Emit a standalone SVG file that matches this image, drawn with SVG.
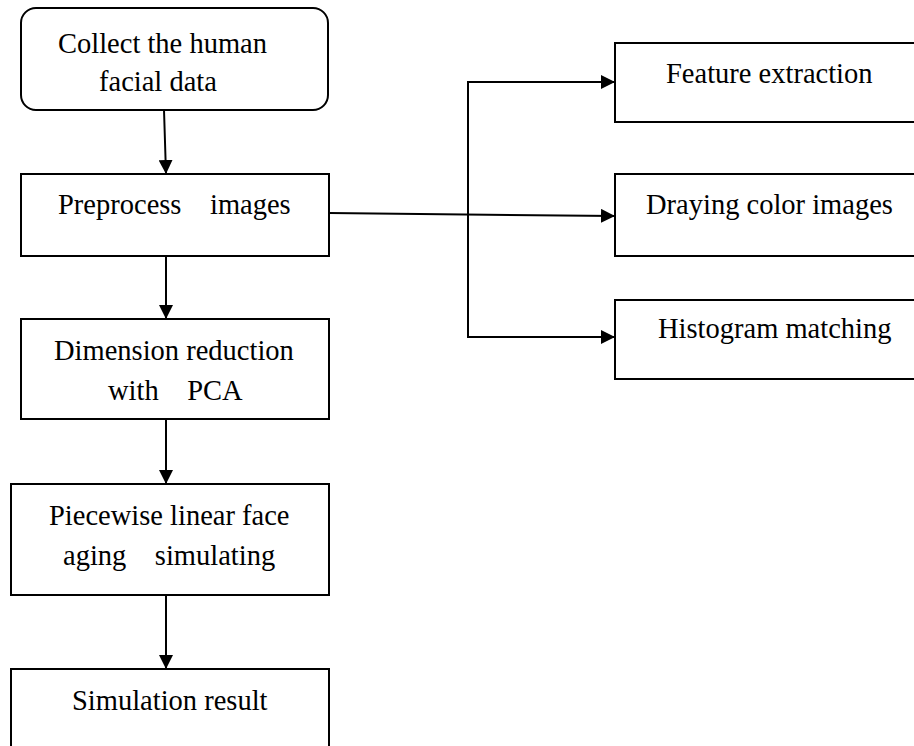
<svg xmlns="http://www.w3.org/2000/svg" width="914" height="746" viewBox="0 0 914 746">
<style>
.box{fill:#fff;stroke:#000;stroke-width:2}
.t{font-family:"Liberation Serif","Times New Roman",serif;font-size:28.5px;fill:#000;white-space:pre}
.c{fill:none;stroke:#000;stroke-width:2}
</style>
<defs>
<marker id="ah" markerWidth="14" markerHeight="14" refX="14" refY="7" orient="auto" markerUnits="userSpaceOnUse">
<path d="M0,0 L14,7 L0,14 Z" fill="#000"/>
</marker>
</defs>
<rect width="914" height="746" fill="#fff"/>
<g id="connectors">
<line class="c" x1="164" y1="110" x2="166" y2="174" marker-end="url(#ah)"/>
<line class="c" x1="166" y1="256" x2="166" y2="319" marker-end="url(#ah)"/>
<line class="c" x1="166" y1="419" x2="166" y2="484" marker-end="url(#ah)"/>
<line class="c" x1="166" y1="595" x2="166" y2="669" marker-end="url(#ah)"/>
<line class="c" x1="329" y1="213" x2="615" y2="216" marker-end="url(#ah)"/>
<polyline class="c" points="615,82 468,82 468,337 615,337"/>
<line class="c" x1="500" y1="82" x2="615" y2="82" marker-end="url(#ah)"/>
<line class="c" x1="500" y1="337" x2="615" y2="337" marker-end="url(#ah)"/>
</g>
<g id="n1">
<rect class="box" x="21" y="8" width="307" height="102" rx="15" ry="15"/>
<text class="t" x="58" y="53">Collect the human</text>
<text class="t" x="99" y="91">facial data</text>
</g>
<g id="n2">
<rect class="box" x="21" y="174" width="308" height="82"/>
<text class="t" x="58" y="214" xml:space="preserve">Preprocess    images</text>
</g>
<g id="n3">
<rect class="box" x="21" y="319" width="308" height="100"/>
<text class="t" x="54" y="360">Dimension reduction</text>
<text class="t" x="108" y="400" xml:space="preserve">with    PCA</text>
</g>
<g id="n4">
<rect class="box" x="11" y="484" width="318" height="111"/>
<text class="t" x="49" y="525">Piecewise linear face</text>
<text class="t" x="63" y="565" xml:space="preserve">aging    simulating</text>
</g>
<g id="n5">
<rect class="box" x="11" y="669" width="318" height="90"/>
<text class="t" x="72" y="710">Simulation result</text>
</g>
<g id="n6">
<rect class="box" x="615" y="43" width="310" height="79"/>
<text class="t" x="666" y="83">Feature extraction</text>
</g>
<g id="n7">
<rect class="box" x="615" y="174" width="310" height="82"/>
<text class="t" x="646" y="214">Draying color images</text>
</g>
<g id="n8">
<rect class="box" x="615" y="300" width="310" height="79"/>
<text class="t" x="658" y="338">Histogram matching</text>
</g>
</svg>
